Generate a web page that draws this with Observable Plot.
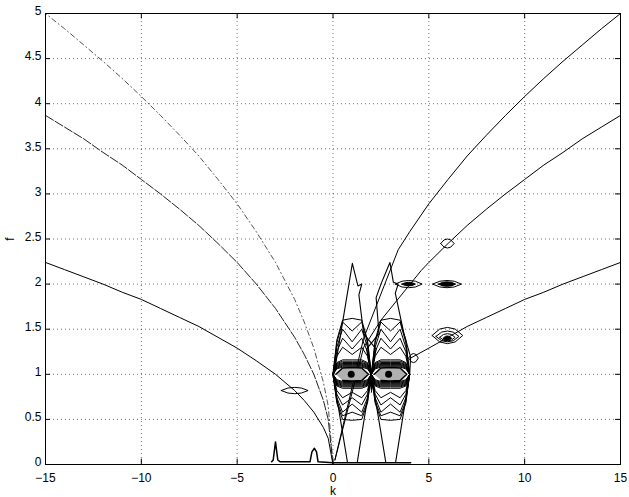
<!DOCTYPE html>
<html><head><meta charset="utf-8">
<script src="https://cdn.jsdelivr.net/npm/d3@7"></script>
<script src="https://cdn.jsdelivr.net/npm/@observablehq/plot@0.6"></script>
<style>body{margin:0;background:#fff} svg{display:block}</style>
</head><body><div id="chart"></div>
<script>
// ---- tick labels ----
const xTicks = [-15, -10, -5, 0, 5, 10, 15];
const yTicks = [0, 0.5, 1, 1.5, 2, 2.5, 3, 3.5, 4, 4.5, 5];

// ---- dispersion branches, k < 0 side (read at |k|) ----
const branchK = [0, 0.25, 0.5, 1, 1.5, 2, 3, 4, 5, 6, 7, 8, 9, 10, 11, 12, 13, 14, 15];
const upperLeftF  = [0, 0.65, 0.91, 1.29, 1.58, 1.83, 2.24, 2.58, 2.89, 3.16, 3.42, 3.65, 3.87, 4.08, 4.28, 4.47, 4.65, 4.83, 5.0];
const middleLeftF = [0, 0.50, 0.71, 1.00, 1.22, 1.41, 1.73, 2.00, 2.24, 2.45, 2.65, 2.83, 3.00, 3.16, 3.32, 3.46, 3.61, 3.74, 3.87];
const lowerLeftF  = [0, 0.29, 0.41, 0.58, 0.71, 0.82, 1.00, 1.15, 1.29, 1.41, 1.53, 1.63, 1.73, 1.83, 1.91, 2.00, 2.08, 2.16, 2.24];

// ---- dispersion branches, k > 0 side ----
const upperRightK  = [0.1, 1.6, 3.4, 4, 5, 6, 7, 8, 9, 10, 11, 12, 13, 14, 15];
const upperRightF  = [0.05, 1.40, 2.38, 2.58, 2.89, 3.16, 3.42, 3.65, 3.87, 4.08, 4.28, 4.47, 4.65, 4.83, 5.0];
const middleRightK = [0.1, 1.6, 2.5, 4.6, 5, 6, 7, 8, 9, 10, 11, 12, 13, 14, 15];
const middleRightF = [0.05, 1.30, 1.60, 2.15, 2.24, 2.45, 2.65, 2.83, 3.00, 3.16, 3.32, 3.46, 3.61, 3.74, 3.87];
const lowerRightK  = [4.05, 5, 6, 7, 8, 9, 10, 11, 12, 13, 14, 15];
const lowerRightF  = [1.18, 1.29, 1.41, 1.53, 1.63, 1.73, 1.83, 1.91, 2.00, 2.08, 2.16, 2.24];

// ---- small closed contours (centre k, centre f, half width, half height, filled) ----
const lensK = [-2.0, 5.97, 3.95, 3.95, 5.95, 5.95, 5.97, 5.97, 5.97, 5.97, 4.2];
const lensF = [0.82, 2.45, 2.00, 2.00, 2.00, 2.00, 1.43, 1.42, 1.41, 1.40, 1.18];
const lensW = [0.70, 0.35, 0.70, 0.35, 0.75, 0.45, 0.80, 0.60, 0.40, 0.22, 0.25];
const lensH = [0.035, 0.05, 0.04, 0.02, 0.04, 0.025, 0.09, 0.06, 0.04, 0.025, 0.05];
const lensFilled = [0, 0, 0, 1, 0, 1, 0, 0, 0, 1, 0];

// ---- the two nested "eye" contour families near f = 1 ----
const eyeCenters = [1, 3];
const eyeLevel = 1.0;
// each ring: heights at offsets ±0.8 (shoulder), ±0.5 (quarter) and 0 (centre), top and bottom
const ringTopS = [0.06, 0.07, 0.08, 0.09, 0.10, 0.11, 0.12, 0.13, 0.20, 0.25, 0.30, 0.35, 0.38];
const ringTopQ = [0.08, 0.09, 0.10, 0.11, 0.12, 0.13, 0.145, 0.16, 0.30, 0.40, 0.50, 0.58, 0.60];
const ringTopC = [0.08, 0.09, 0.10, 0.11, 0.12, 0.13, 0.145, 0.16, 0.22, 0.28, 0.36, 0.48, 0.62];
const ringBotS = [0.06, 0.07, 0.08, 0.09, 0.10, 0.11, 0.12, 0.13, 0.18, 0.22, 0.26, 0.30, 0.32];
const ringBotQ = [0.08, 0.09, 0.10, 0.11, 0.12, 0.13, 0.14, 0.155, 0.26, 0.34, 0.42, 0.46, 0.50];
const ringBotC = [0.08, 0.09, 0.10, 0.11, 0.12, 0.13, 0.14, 0.155, 0.20, 0.26, 0.33, 0.42, 0.51];

// ---- outer open contour pieces around the eyes ----
const outlineId = [0,0,0,0,0,0,0,0, 1,1,1,1,1,1,1,1,1,1,1,1, 2,2, 3,3, 4,4, 5,5];
const outlineK = [0.05, 1.01, 1.3, 1.5, 1.35, 1.6, 2.25, 2.0,
                  2.0, 1.75, 2.4, 2.25, 2.5, 2.97, 3.15, 3.4, 3.25, 3.7, 4.05, 4.0,
                  0.0, 0.75, 2.0, 1.27, 2.0, 2.75, 4.0, 3.27];
const outlineF = [1.0, 2.23, 1.98, 2.0, 1.88, 1.45, 1.28, 1.0,
                  1.0, 1.28, 1.45, 1.85, 2.0, 2.24, 2.02, 2.0, 1.9, 1.45, 1.19, 1.0,
                  1.0, 0.03, 1.0, 0.03, 1.0, 0.03, 1.0, 0.03];

// ---- small dark mark between the eyes ----
const noseK = [1.88, 2.12, 2.0];
const noseF = [0.93, 0.93, 0.80];

// ---- near-zero contour along the bottom ----
const baseK = [-3.2, -3.12, -3.0, -2.88, -2.75, -1.2, -1.1, -0.97, -0.86, -0.78, 0, 4.05];
const baseF = [0.03, 0.05, 0.25, 0.05, 0.03, 0.03, 0.14, 0.18, 0.14, 0.03, 0.02, 0.02];

// ---- pupils ----
const pupilK = [0.95, 2.9];
const pupilF = [1.0, 1.0];

// ===== build tables =====
const leftBranch = (F) => branchK.map((k, i) => ({k: -k, f: F[i]}));
const rightBranch = (K, F) => K.map((k, i) => ({k, f: F[i]}));

const lensRows = [];
lensK.forEach((c, i) => {
  const w = lensW[i], h = lensH[i], f0 = lensF[i];
  const pts = [[-1,0],[-0.5,0.8],[0,1],[0.5,0.8],[1,0],[0.5,-0.8],[0,-1],[-0.5,-0.8],[-1,0]];
  pts.forEach(([a,b]) => lensRows.push({id: i, filled: lensFilled[i], k: c + a*w, f: f0 + b*h}));
});

const ringRows = [];
eyeCenters.forEach((c, e) => {
  ringTopQ.forEach((tq, r) => {
    const id = e*100 + r;
    const pts = [[-1,0],[-0.8,ringTopS[r]],[-0.5,tq],[0,ringTopC[r]],[0.5,tq],[0.8,ringTopS[r]],[1,0],
                 [0.8,-ringBotS[r]],[0.5,-ringBotQ[r]],[0,-ringBotC[r]],[-0.5,-ringBotQ[r]],[-0.8,-ringBotS[r]],[-1,0]];
    pts.forEach(([a,b]) => ringRows.push({id, k: c + a, f: eyeLevel + b}));
  });
});
const eyeFillRows = [];
eyeCenters.forEach((c, e) => {
  [[-0.85,0],[-0.5,0.07],[0,0.075],[0.5,0.07],[0.85,0],[0.5,-0.07],[0,-0.075],[-0.5,-0.07]].forEach(([a,b]) =>
    eyeFillRows.push({id: e, k: c + a, f: eyeLevel + b}));
});
const outlineRows = outlineK.map((k, i) => ({id: outlineId[i], k, f: outlineF[i]}));
const noseRows = noseK.map((k, i) => ({k, f: noseF[i]}));
const baseRows = baseK.map((k, i) => ({k, f: baseF[i]}));
const pupilRows = pupilK.map((k, i) => ({k, f: pupilF[i]}));

const L = {x: "k", y: "f", stroke: "black", strokeWidth: 1, curve: "linear"};
const fmt = d => d < 0 ? "\u2212" + (-d) : String(d);

const chart = Plot.plot({
  width: 629, height: 497,
  marginLeft: 45, marginRight: 9, marginTop: 13, marginBottom: 33,
  style: {fontFamily: "'Liberation Sans', Arial, sans-serif", fontSize: "12px", background: "white", color: "black"},
  x: {domain: [-15, 15]},
  y: {domain: [0, 5]},
  marks: [
    // dotted grid
    Plot.ruleX(xTicks.slice(1, -1), {stroke: "black", strokeOpacity: 0.55, strokeDasharray: "1,3"}),
    Plot.ruleY(yTicks.slice(1, -1), {stroke: "black", strokeOpacity: 0.55, strokeDasharray: "1,3"}),
    // inward ticks
    Plot.ruleX(xTicks, {y1: () => 0, y2: () => 0.06, stroke: "black"}),
    Plot.ruleX(xTicks, {y1: () => 4.94, y2: () => 5, stroke: "black"}),
    Plot.ruleY(yTicks, {x1: () => -15, x2: () => -14.74, stroke: "black"}),
    Plot.ruleY(yTicks, {x1: () => 14.74, x2: () => 15, stroke: "black"}),
    // left branches
    Plot.line(leftBranch(upperLeftF), {...L, stroke: "#555", strokeDasharray: "5,3,1,3"}),
    Plot.line(leftBranch(middleLeftF), {...L, stroke: "#222", strokeDasharray: "9,2"}),
    Plot.line(leftBranch(lowerLeftF), {...L}),
    // right branches
    Plot.line(rightBranch(upperRightK, upperRightF), {...L}),
    Plot.line(rightBranch(middleRightK, middleRightF), {...L}),
    Plot.line(rightBranch(lowerRightK, lowerRightF), {...L}),
    // eye rings
    Plot.line(ringRows, {...L, z: "id", strokeWidth: 1}),
    // eye fills (speckled interior)
    Plot.line(eyeFillRows, {x: "k", y: "f", z: "id", fill: "#b0b0b0", stroke: "black", strokeWidth: 1.5}),
    // outer contour pieces
    Plot.line(outlineRows, {...L, z: "id", strokeWidth: 1.1}),
    // small closed contours
    Plot.line(lensRows, {...L, z: "id", fill: d => d.filled ? "black" : "none"}),
    Plot.line(noseRows, {...L, fill: "black"}),
    // pupils
    Plot.dot(pupilRows, {x: "k", y: "f", r: 3.5, fill: "black"}),
    // bottom contour
    Plot.line(baseRows, {...L, strokeWidth: 1.5}),
    Plot.frame({stroke: "black"}),
    Plot.axisX({ticks: xTicks, tickSize: 0, tickPadding: 9, tickFormat: fmt, label: "k", labelAnchor: "center", labelArrow: "none", labelOffset: 30}),
    Plot.axisY({ticks: yTicks, tickSize: 0, tickPadding: 4, dy: -2, tickFormat: fmt, label: "f", labelAnchor: "center", labelArrow: "none", labelOffset: 40})
  ]
});
document.getElementById("chart").appendChild(chart);
</script>
</body></html>
